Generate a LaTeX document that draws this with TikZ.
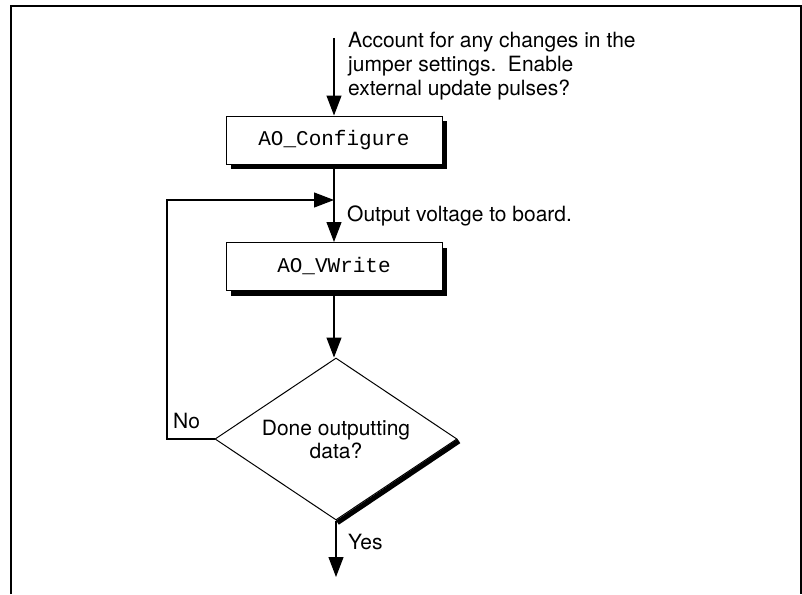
\documentclass[tikz,border=0pt]{standalone}
\usepackage{fontspec}
\setmainfont{TeX Gyre Heros}
\setmonofont{Liberation Mono}
\usetikzlibrary{arrows.meta,shapes.geometric,shadows,calc}
\begin{document}
\begin{tikzpicture}[x=1pt,y=-1pt,
  every node/.style={font=\fontsize{21}{24}\selectfont, inner sep=0pt},
  procbox/.style={draw, line width=1pt, fill=white, minimum width=216pt, minimum height=48pt,
    font=\ttfamily\fontsize{21}{24}\selectfont,
    general shadow={fill=black, shadow xshift=5pt, shadow yshift=-5pt}},
  decision/.style={draw, line width=1pt, shape=diamond, aspect=1.5, minimum width=242pt,
    minimum height=162pt, align=center, font=\fontsize{21}{23}\selectfont},
  flow/.style={line width=1.1pt, -{Triangle[length=20pt,width=15pt]}},
  plain/.style={line width=1.1pt},
  label/.style={anchor=base west},
  frameline/.style={line width=2pt},
  shadowline/.style={line width=5pt, line cap=butt}
]
\useasboundingbox (0,0) rectangle (802,594);
\draw[frameline] (11,594) -- (11,6) -- (801,6) -- (801,594);

\coordinate (start) at (334,38);
\node[procbox] (cfg) at (334,140) {AO\_Configure};
\node[procbox] (vw) at (334,266.5) {AO\_VWrite};
\node[decision] (d) at (336,439) {Done outputting\\data?};
\coordinate (join) at (334,200);
\coordinate (loopc) at (167,439);
\coordinate (end) at (336,577);

\node[anchor=north west, align=left] (t1) at (348,31.5)
  {Account for any changes in the\\jumper settings.\ \ Enable\\external update pulses?};
\node[label] (t2) at (347,221) {Output voltage to board.};
\node[label] (no) at (173,428) {No};
\node[label] (yes) at (348,549) {Yes};

\draw[flow] (start) -- (cfg.north);
\draw[flow] (cfg.south) -- (vw.north);
\draw[flow] (vw.south) -- (vw.south |- d.north);
\draw[flow] (d.west) -- (loopc) |- (join);
\draw[flow] (d.south) -- (end);
\draw[shadowline] ([xshift=1.4pt,yshift=-2.1pt]d.east) -- ([xshift=1.4pt,yshift=-2.1pt]d.south);
\end{tikzpicture}
\end{document}
